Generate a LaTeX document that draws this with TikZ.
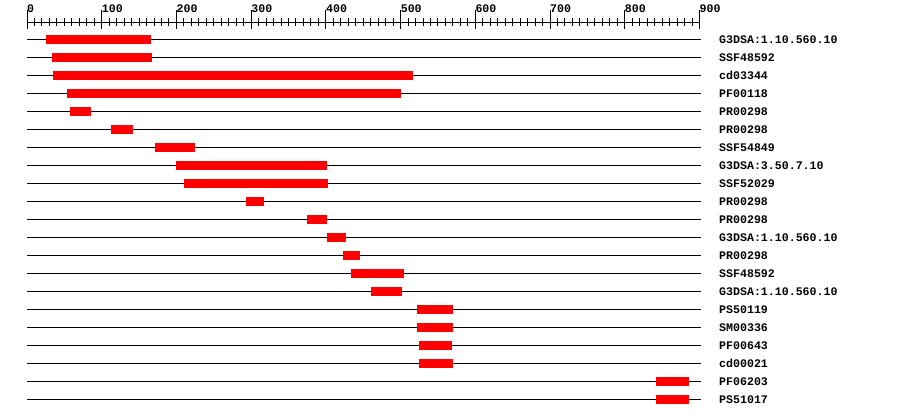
\documentclass[tikz,border=0pt]{standalone}
\usepackage{fontspec}
\setmonofont{Liberation Mono}
\begin{document}
\begin{tikzpicture}[x=1pt,y=-1pt,
  rulerline/.style={line width=1pt,black},
  rowline/.style={line width=1pt,black},
  domainbar/.style={fill=red,draw=none},
  lbl/.style={font=\ttfamily\bfseries\fontsize{11.6}{12}\selectfont,anchor=base west,inner sep=0pt}]
\useasboundingbox (0,0) rectangle (900,418);
% ruler
\coordinate (r0) at (27,22);
\coordinate (r1) at (699.5,22);
\draw[rulerline] (r0) -- (r1);
\foreach \k in {0,...,90}{
  \pgfmathsetmacro{\xx}{27+7.472*\k}
  \draw[rulerline] (\xx,18) -- (\xx,26);
}
\foreach \k in {0,...,9}{
  \pgfmathsetmacro{\xx}{27+74.72*\k}
  \pgfmathtruncatemacro{\vv}{100*\k}
  \draw[rulerline] (\xx,10) -- (\xx,28.5);
  \node[lbl] (tick\k) at (\xx,12.5) {\vv};
}
% rows
\foreach \a/\b/\t [count=\i] in {
  46/151/G3DSA:1.10.560.10,
  52/152/SSF48592,
  53/413/cd03344,
  67/401/PF00118,
  70/91/PR00298,
  111/133/PR00298,
  155/195/SSF54849,
  176/327/G3DSA:3.50.7.10,
  184/328/SSF52029,
  246/264/PR00298,
  307/327/PR00298,
  327/346/G3DSA:1.10.560.10,
  343/360/PR00298,
  351/404/SSF48592,
  371/402/G3DSA:1.10.560.10,
  417/453/PS50119,
  417/453/SM00336,
  419/452/PF00643,
  419/453/cd00021,
  656/689/PF06203,
  656/689/PS51017}{
  \pgfmathsetmacro{\yy}{39.3+18*(\i-1)}
  \coordinate (ls\i) at (27,\yy);
  \coordinate (le\i) at (701,\yy);
  \draw[rowline] (ls\i) -- (le\i);
  \fill[domainbar] (\a,\yy-4.4) rectangle (\b,\yy+4.4);
  \node[lbl] (lab\i) at (719,\yy+3.8) {\t};
}
\end{tikzpicture}
\end{document}
